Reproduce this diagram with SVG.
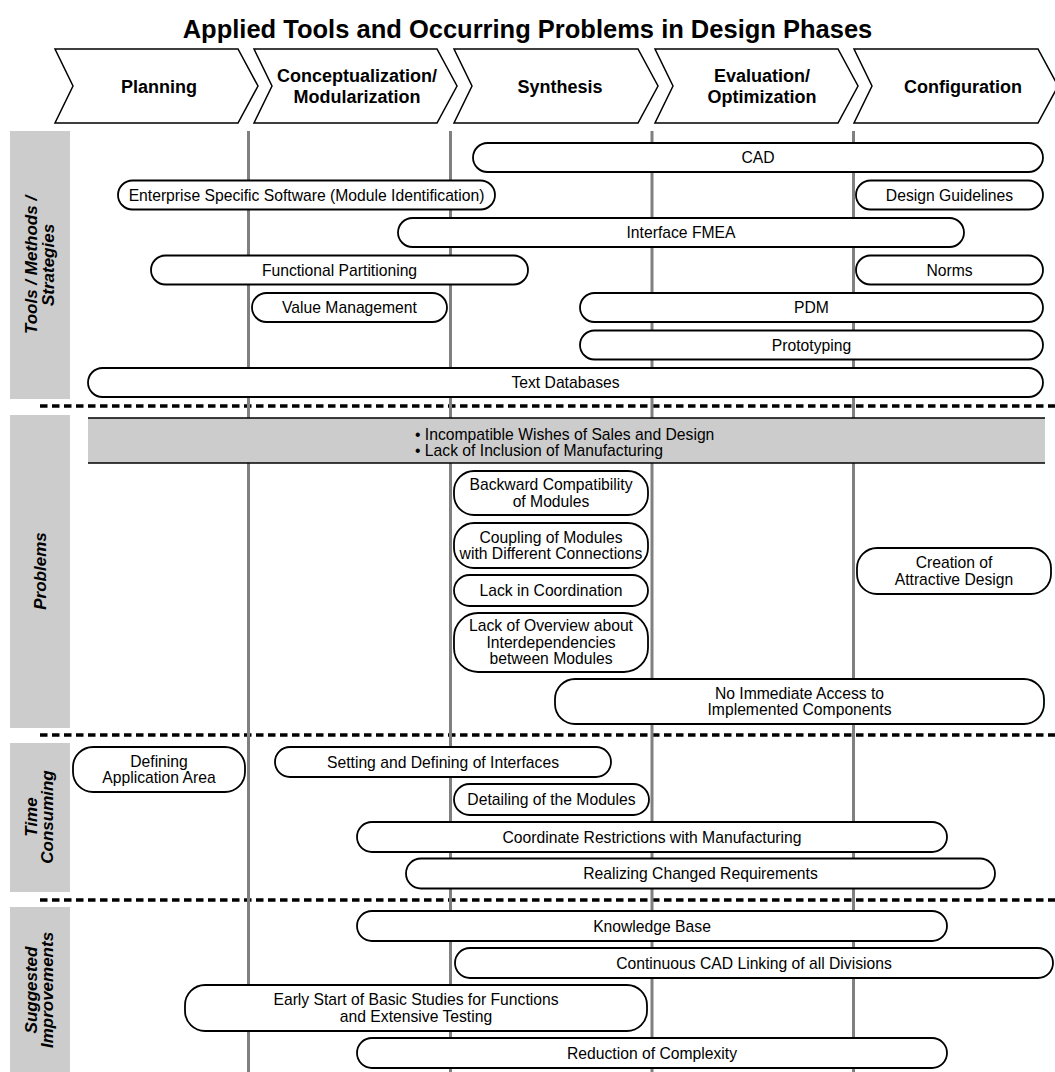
<svg xmlns="http://www.w3.org/2000/svg" width="1055" height="1072" viewBox="0 0 1055 1072">
<style>
text { font-family: "Liberation Sans", Arial, sans-serif; fill: #000; }
.t { font-size: 15.7px; text-anchor: middle; }
.ts { font-size: 15.7px; text-anchor: start; }
.title { font-size: 25.5px; font-weight: bold; text-anchor: middle; }
.h { font-size: 18px; font-weight: bold; text-anchor: middle; }
.side { font-size: 17px; font-weight: bold; font-style: italic; text-anchor: middle; }
.pill { fill: #fff; stroke: #000; stroke-width: 1.8; }
.chev { fill: #fff; stroke: #000; stroke-width: 1.5; }
.gray { fill: #cccccc; }
.vl { stroke: #808080; stroke-width: 3; fill: none; }
.dash { stroke: #000; stroke-width: 3.5; stroke-dasharray: 7.5 4.5; fill: none; }
.bline { stroke: #000; stroke-width: 1.6; }
</style>
<rect width="1055" height="1072" fill="#fff"/>
<text class="title" x="527.5" y="38">Applied Tools and Occurring Problems in Design Phases</text>

<g id="phases">
  <g id="phase-planning">
    <path class="chev" d="M55,49 L238,49 L258,86 L238,123 L55,123 L73,86 Z"/>
    <text class="h" x="159" y="92.5">Planning</text>
  </g>
  <g id="phase-conceptualization">
    <path class="chev" d="M254,49 L437,49 L457,86 L437,123 L254,123 L272,86 Z"/>
    <text class="h" x="357" y="81.5">Conceptualization/</text>
    <text class="h" x="357" y="102.5">Modularization</text>
  </g>
  <g id="phase-synthesis">
    <path class="chev" d="M454,49 L638,49 L658,86 L638,123 L454,123 L472,86 Z"/>
    <text class="h" x="560" y="92.5">Synthesis</text>
  </g>
  <g id="phase-evaluation">
    <path class="chev" d="M655,49 L838,49 L858,86 L838,123 L655,123 L673,86 Z"/>
    <text class="h" x="762" y="81.5">Evaluation/</text>
    <text class="h" x="762" y="102.5">Optimization</text>
  </g>
  <g id="phase-configuration">
    <path class="chev" d="M854,49 L1038,49 L1058,86 L1038,123 L854,123 L872,86 Z"/>
    <text class="h" x="963" y="92.5">Configuration</text>
  </g>
</g>

<g id="section-labels">
  <g id="label-tools">
    <rect class="gray" x="10" y="131" width="60" height="268"/>
    <text class="side" transform="translate(37,265) rotate(-90)"><tspan x="0" y="0">Tools / Methods /</tspan><tspan x="0" y="17">Strategies</tspan></text>
  </g>
  <g id="label-problems">
    <rect class="gray" x="10" y="415" width="60" height="313"/>
    <text class="side" transform="translate(46,571) rotate(-90)">Problems</text>
  </g>
  <g id="label-time">
    <rect class="gray" x="10" y="743" width="60" height="149"/>
    <text class="side" transform="translate(37,817) rotate(-90)"><tspan x="0" y="0">Time</tspan><tspan x="0" y="16">Consuming</tspan></text>
  </g>
  <g id="label-suggested">
    <rect class="gray" x="10" y="907" width="60" height="165"/>
    <text class="side" transform="translate(37,990) rotate(-90)"><tspan x="0" y="0">Suggested</tspan><tspan x="0" y="16">Improvements</tspan></text>
  </g>
</g>

<g id="connectors">
  <line class="dash" x1="40" y1="406" x2="1055" y2="406"/>
  <line class="dash" x1="40" y1="735" x2="1055" y2="735"/>
  <line class="dash" x1="40" y1="900" x2="1055" y2="900"/>
  <line class="vl" x1="248.5" y1="131" x2="248.5" y2="1072"/>
  <line class="vl" x1="450.5" y1="131" x2="450.5" y2="1072"/>
  <line class="vl" x1="652" y1="131" x2="652" y2="1072"/>
  <line class="vl" x1="853.5" y1="131" x2="853.5" y2="1072"/>
</g>

<g id="tools">
  <g id="cad"><rect class="pill" x="473" y="143" width="570" height="29" rx="14.5"/><text class="t" x="758" y="163">CAD</text></g>
  <g id="enterprise-software"><rect class="pill" x="118" y="180.5" width="377" height="29" rx="14.5"/><text class="t" x="306.5" y="200.5">Enterprise Specific Software (Module Identification)</text></g>
  <g id="design-guidelines"><rect class="pill" x="856" y="180.5" width="187" height="29" rx="14.5"/><text class="t" x="949.5" y="200.5">Design Guidelines</text></g>
  <g id="interface-fmea"><rect class="pill" x="398" y="218" width="566" height="29" rx="14.5"/><text class="t" x="681" y="238">Interface FMEA</text></g>
  <g id="functional-partitioning"><rect class="pill" x="151" y="255.5" width="377" height="29" rx="14.5"/><text class="t" x="339.5" y="275.5">Functional Partitioning</text></g>
  <g id="norms"><rect class="pill" x="856" y="255.5" width="187" height="29" rx="14.5"/><text class="t" x="949.5" y="275.5">Norms</text></g>
  <g id="value-management"><rect class="pill" x="252" y="293" width="195" height="29" rx="14.5"/><text class="t" x="349.5" y="313">Value Management</text></g>
  <g id="pdm"><rect class="pill" x="580" y="293" width="463" height="29" rx="14.5"/><text class="t" x="811.5" y="313">PDM</text></g>
  <g id="prototyping"><rect class="pill" x="580" y="330.5" width="463" height="29" rx="14.5"/><text class="t" x="811.5" y="350.5">Prototyping</text></g>
  <g id="text-databases"><rect class="pill" x="88" y="368" width="955" height="29" rx="14.5"/><text class="t" x="565.5" y="388">Text Databases</text></g>
</g>

<g id="problems">
  <g id="general-problems">
    <rect class="gray" x="88" y="418" width="957" height="45"/>
    <line class="bline" x1="88" y1="418" x2="1045" y2="418"/>
    <line class="bline" x1="88" y1="463" x2="1045" y2="463"/>
    <text class="ts" x="415" y="439.5">• Incompatible Wishes of Sales and Design</text>
    <text class="ts" x="415" y="455.5">• Lack of Inclusion of Manufacturing</text>
  </g>
  <g id="backward-compatibility"><rect class="pill" x="454" y="471" width="194" height="44" rx="20"/><text class="t" x="551" y="490">Backward Compatibility</text><text class="t" x="551" y="506.5">of Modules</text></g>
  <g id="coupling"><rect class="pill" x="454" y="523" width="194" height="45" rx="20"/><text class="t" x="551" y="542.5">Coupling of Modules</text><text class="t" x="551" y="559">with Different Connections</text></g>
  <g id="lack-coordination"><rect class="pill" x="454" y="575" width="194" height="31" rx="15.5"/><text class="t" x="551" y="596">Lack in Coordination</text></g>
  <g id="lack-overview"><rect class="pill" x="454" y="613" width="194" height="59" rx="24"/><text class="t" x="551" y="631">Lack of Overview about</text><text class="t" x="551" y="647.5">Interdependencies</text><text class="t" x="551" y="664">between Modules</text></g>
  <g id="attractive-design"><rect class="pill" x="857" y="548" width="194" height="46" rx="20"/><text class="t" x="954" y="568">Creation of</text><text class="t" x="954" y="584.5">Attractive Design</text></g>
  <g id="no-access"><rect class="pill" x="555" y="679" width="489" height="45" rx="20"/><text class="t" x="799.5" y="698.5">No Immediate Access to</text><text class="t" x="799.5" y="715">Implemented Components</text></g>
</g>

<g id="time-consuming">
  <g id="defining-area"><rect class="pill" x="73" y="747" width="172" height="45" rx="20"/><text class="t" x="159" y="766.5">Defining</text><text class="t" x="159" y="783">Application Area</text></g>
  <g id="setting-interfaces"><rect class="pill" x="275" y="747" width="336" height="30" rx="15"/><text class="t" x="443" y="767.5">Setting and Defining of Interfaces</text></g>
  <g id="detailing-modules"><rect class="pill" x="454" y="784" width="195" height="31" rx="15.5"/><text class="t" x="551.5" y="805">Detailing of the Modules</text></g>
  <g id="coordinate-restrictions"><rect class="pill" x="357" y="822" width="590" height="30" rx="15"/><text class="t" x="652" y="842.5">Coordinate Restrictions with Manufacturing</text></g>
  <g id="changed-requirements"><rect class="pill" x="406" y="858.5" width="589" height="30" rx="15"/><text class="t" x="700.5" y="879">Realizing Changed Requirements</text></g>
</g>

<g id="suggested-improvements">
  <g id="knowledge-base"><rect class="pill" x="357" y="911" width="590" height="30" rx="15"/><text class="t" x="652" y="931.5">Knowledge Base</text></g>
  <g id="cad-linking"><rect class="pill" x="455" y="948" width="598" height="30" rx="15"/><text class="t" x="754" y="968.5">Continuous CAD Linking of all Divisions</text></g>
  <g id="early-start"><rect class="pill" x="185" y="985" width="462" height="46" rx="20"/><text class="t" x="416" y="1005">Early Start of Basic Studies for Functions</text><text class="t" x="416" y="1021.5">and Extensive Testing</text></g>
  <g id="reduction-complexity"><rect class="pill" x="357" y="1038" width="590" height="30" rx="15"/><text class="t" x="652" y="1058.5">Reduction of Complexity</text></g>
</g>
</svg>
